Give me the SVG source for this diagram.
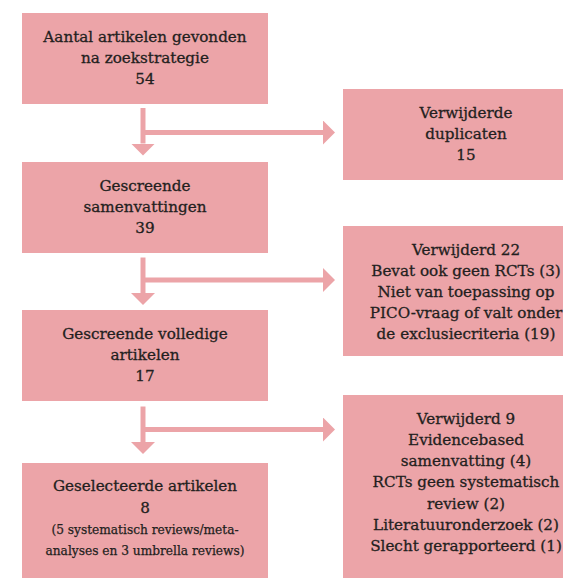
<svg xmlns="http://www.w3.org/2000/svg" width="563" height="580" viewBox="0 0 563 580">
  <defs>
    <style>
      .box { fill: #eca4a8; }
      .t { font-family: "DejaVu Serif", "Liberation Serif", serif; font-size: 15.2px; fill: #231f20; stroke: #231f20; stroke-width: 0.3px; text-anchor: middle; }
      .s { font-size: 12.2px; stroke-width: 0.25px; }
      .conn { fill: none; stroke: #eca4a8; stroke-width: 5; }
    </style>
    <marker id="ah" viewBox="0 0 12 24" refX="0" refY="12" markerWidth="12" markerHeight="24" markerUnits="userSpaceOnUse" orient="auto">
      <path d="M0,0 L12,12 L0,24 Z" fill="#eca4a8"/>
    </marker>
  </defs>
  <rect width="563" height="580" fill="#ffffff"/>

  <g id="connectors">
    <path class="conn" d="M143,108 V143.5" marker-end="url(#ah)"/>
    <path class="conn" d="M143,132.5 H323" marker-end="url(#ah)"/>
    <path class="conn" d="M143,257.5 V293" marker-end="url(#ah)"/>
    <path class="conn" d="M143,280 H323" marker-end="url(#ah)"/>
    <path class="conn" d="M143,406.5 V442" marker-end="url(#ah)"/>
    <path class="conn" d="M143,429.5 H323" marker-end="url(#ah)"/>
  </g>

  <g id="n1">
    <rect class="box" x="22" y="13" width="246" height="91"/>
    <text class="t" x="145" y="41.5">Aantal artikelen gevonden<tspan x="145" dy="21">na zoekstrategie</tspan><tspan x="145" dy="21">54</tspan></text>
  </g>
  <g id="n2">
    <rect class="box" x="343" y="89" width="246" height="91"/>
    <text class="t" x="466" y="117.5">Verwijderde<tspan x="466" dy="21">duplicaten</tspan><tspan x="466" dy="21">15</tspan></text>
  </g>
  <g id="n3">
    <rect class="box" x="22" y="162" width="246" height="91"/>
    <text class="t" x="145" y="190.5">Gescreende<tspan x="145" dy="21">samenvattingen</tspan><tspan x="145" dy="21">39</tspan></text>
  </g>
  <g id="n4">
    <rect class="box" x="343" y="226" width="246" height="130"/>
    <text class="t" x="466" y="254.5">Verwijderd 22<tspan x="466" dy="21.2">Bevat ook geen RCTs (3)</tspan><tspan x="466" dy="21.2">Niet van toepassing op</tspan><tspan x="466" dy="21.2">PICO-vraag of valt onder</tspan><tspan x="466" dy="21.2">de exclusiecriteria (19)</tspan></text>
  </g>
  <g id="n5">
    <rect class="box" x="22" y="310" width="246" height="91"/>
    <text class="t" x="145" y="338.5">Gescreende volledige<tspan x="145" dy="21">artikelen</tspan><tspan x="145" dy="21">17</tspan></text>
  </g>
  <g id="n6">
    <rect class="box" x="343" y="395" width="246" height="183"/>
    <text class="t" x="466" y="423.5">Verwijderd 9<tspan x="466" dy="21.25">Evidencebased</tspan><tspan x="466" dy="21.25">samenvatting (4)</tspan><tspan x="466" dy="21.25">RCTs geen systematisch</tspan><tspan x="466" dy="21.25">review (2)</tspan><tspan x="466" dy="21.25">Literatuuronderzoek (2)</tspan><tspan x="466" dy="21.25">Slecht gerapporteerd (1)</tspan></text>
  </g>
  <g id="n7">
    <rect class="box" x="22" y="463" width="246" height="115"/>
    <text class="t" x="145" y="491">Geselecteerde artikelen<tspan x="145" dy="22">8</tspan><tspan class="s" x="145" dy="21">(5 systematisch reviews/meta-</tspan><tspan class="s" x="145" dy="21">analyses en 3 umbrella reviews)</tspan></text>
  </g>
</svg>
